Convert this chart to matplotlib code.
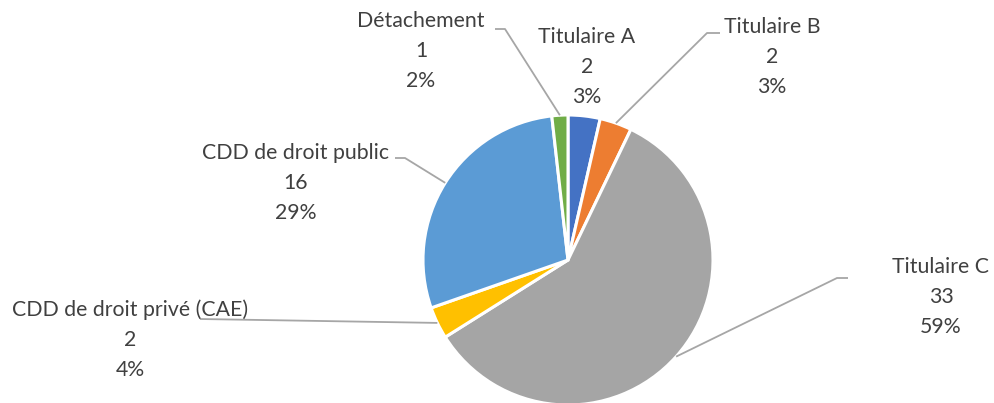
import numpy as np
import matplotlib
matplotlib.use("Agg")
import matplotlib.pyplot as plt

# effectifs par statut
categories = ["Titulaire A", "Titulaire B", "Titulaire C",
              "CDD de droit privé (CAE)", "CDD de droit public", "Détachement"]
effectifs = [2, 2, 33, 2, 16, 1]
pourcentages = ["3%", "3%", "59%", "4%", "29%", "2%"]
couleurs = ["#4472C4", "#ED7D31", "#A5A5A5", "#FFC000", "#5B9BD5", "#70AD47"]

W, H = 994, 403
CX, CY, R = 568, 260, 145   # centre / rayon en pixels (y vers le bas)

# position des étiquettes (centre de la ligne du milieu) et coude des traits
label_pos = [(587, 67), (772, 57), (941, 297), (130, 340), (296, 183), (421, 51)]
leader = [None, [(720, 33), (707, 33)], [(848, 278), (837, 278)],
          [(200, 319)], [(395, 158), (405, 158)], [(495, 29), (505, 29)]]

plt.rcParams['font.family'] = ['Lato', 'DejaVu Sans']

fig = plt.figure(figsize=(W / 100, H / 100), dpi=100)
ax = fig.add_axes([0, 0, 1, 1])

ax.pie(effectifs, colors=couleurs, startangle=90, counterclock=False,
       center=(CX, H - CY), radius=R,
       wedgeprops=dict(edgecolor='white', linewidth=2.2))

# pie() impose ses propres limites : on repasse en repère pixel
ax.set_xlim(0, W)
ax.set_ylim(0, H)
ax.set_aspect('equal')
ax.axis('off')

total = sum(effectifs)
cum = np.cumsum([0] + effectifs)
for i, cat in enumerate(categories):
    mid = (cum[i] + cum[i + 1]) / 2 / total * 2 * np.pi
    ex = CX + R * np.sin(mid)
    ey = CY - R * np.cos(mid)
    if leader[i] is not None:
        pts = leader[i] + [(ex, ey)]
        ax.plot([p[0] for p in pts], [H - p[1] for p in pts],
                color='#A6A6A6', lw=1.3, solid_capstyle='butt', zorder=1)
    lx, ly = label_pos[i]
    txt = f"{cat}\n{effectifs[i]}\n{pourcentages[i]}"
    ax.text(lx, H - ly, txt, ha='center', va='center', fontsize=15.3,
            color='#404040', linespacing=1.62)

fig.savefig("out.png", dpi=100, facecolor='white')
